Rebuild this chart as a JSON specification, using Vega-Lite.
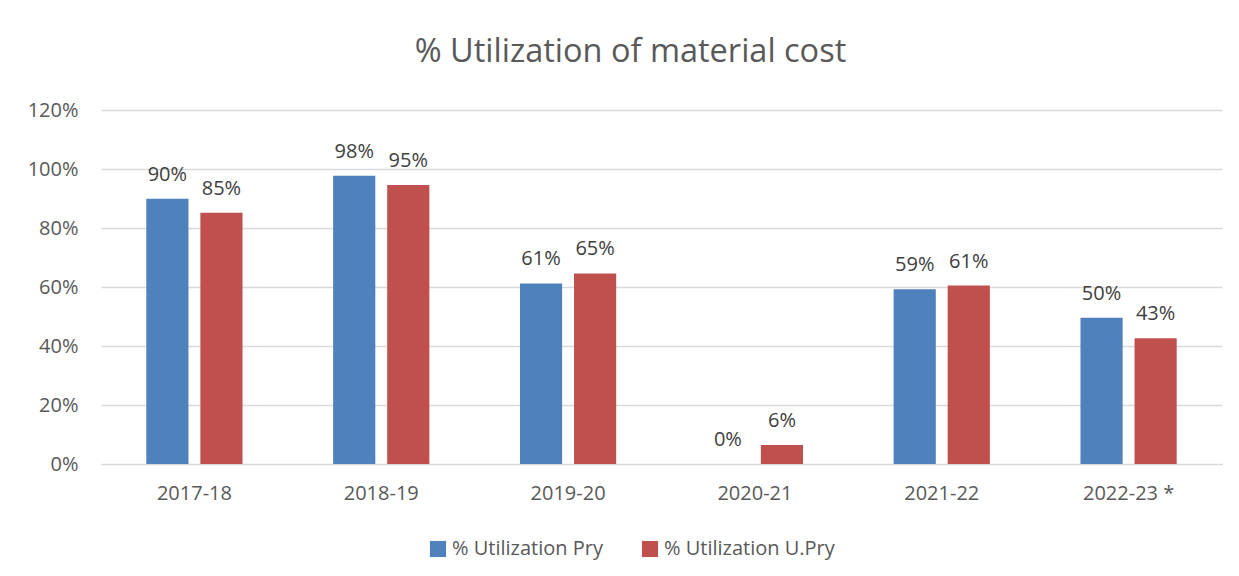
{
  "$schema": "https://vega.github.io/schema/vega-lite/v6.json",
  "width": 1239,
  "height": 576,
  "autosize": {"type": "fit", "contains": "padding"},
  "padding": {"left": 27, "right": 17, "top": 35, "bottom": 73},
  "background": "white",
  "title": {
    "text": "% Utilization of material cost",
    "fontSize": 32.5,
    "font": "Open Sans",
    "fontWeight": "normal",
    "color": "#595959",
    "offset": 32,
    "dx": -31,
    "anchor": "middle"
  },
  "config": {
    "view": {"stroke": null},
    "font": "Open Sans"
  },
  "data": {
    "values": [
      {"year": "2017-18", "series": "% Utilization Pry", "value": 0.899},
      {"year": "2017-18", "series": "% Utilization U.Pry", "value": 0.852},
      {"year": "2018-19", "series": "% Utilization Pry", "value": 0.977},
      {"year": "2018-19", "series": "% Utilization U.Pry", "value": 0.946},
      {"year": "2019-20", "series": "% Utilization Pry", "value": 0.612},
      {"year": "2019-20", "series": "% Utilization U.Pry", "value": 0.646},
      {"year": "2020-21", "series": "% Utilization Pry", "value": 0.0},
      {"year": "2020-21", "series": "% Utilization U.Pry", "value": 0.064},
      {"year": "2021-22", "series": "% Utilization Pry", "value": 0.592},
      {"year": "2021-22", "series": "% Utilization U.Pry", "value": 0.605},
      {"year": "2022-23 *", "series": "% Utilization Pry", "value": 0.496},
      {"year": "2022-23 *", "series": "% Utilization U.Pry", "value": 0.426}
    ]
  },
  "encoding": {
    "x": {
      "field": "year",
      "type": "nominal",
      "sort": null,
      "scale": {"paddingInner": 0.485, "paddingOuter": 0.2425},
      "axis": {
        "title": null,
        "labelAngle": 0,
        "labelFontSize": 20,
        "labelColor": "#595959",
        "labelPadding": 19,
        "domainColor": "#D9D9D9",
        "ticks": false
      }
    },
    "xOffset": {
      "field": "series",
      "type": "nominal",
      "scale": {"paddingInner": 0.22, "paddingOuter": 0}
    },
    "y": {
      "field": "value",
      "type": "quantitative",
      "scale": {"domain": [0, 1.2]},
      "axis": {
        "title": null,
        "format": ".0%",
        "values": [0, 0.2, 0.4, 0.6, 0.8, 1.0, 1.2],
        "labelOverlap": false,
        "labelFontSize": 20,
        "labelColor": "#595959",
        "labelPadding": 23,
        "domain": false,
        "ticks": false,
        "gridColor": "#D9D9D9",
        "gridWidth": 1.3
      }
    }
  },
  "layer": [
    {
      "mark": {"type": "bar"},
      "encoding": {
        "color": {
          "field": "series",
          "type": "nominal",
          "scale": {"range": ["#4F81BD", "#C0504D"]},
          "legend": {
            "title": null,
            "orient": "none",
            "legendX": 327,
            "legendY": 429,
            "direction": "horizontal",
            "symbolType": "square",
            "symbolSize": 260,
            "symbolStrokeWidth": 0,
            "labelFontSize": 20,
            "labelLimit": 400,
            "labelColor": "#595959",
            "columnPadding": 37,
            "labelOffset": 4
          }
        }
      }
    },
    {
      "mark": {
        "type": "text",
        "baseline": "bottom",
        "dy": -14,
        "fontSize": 20,
        "color": "#404040"
      },
      "encoding": {
        "text": {"field": "value", "type": "quantitative", "format": ".0%"}
      }
    }
  ]
}
